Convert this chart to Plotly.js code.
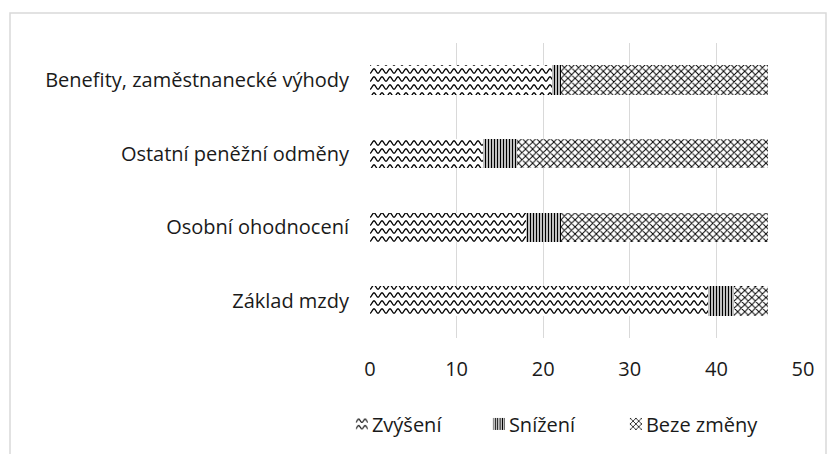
<!DOCTYPE html>
<html>
<head>
<meta charset="utf-8">
<script src="https://cdn.plot.ly/plotly-3.0.1.min.js"></script>
<style>
html,body{margin:0;padding:0;background:#fff;}
#chart{width:834px;height:454px;}
</style>
</head>
<body>
<div id="chart"></div>
<script>
// Data
var categories = ["Základ mzdy", "Osobní ohodnocení", "Ostatní peněžní odměny", "Benefity, zaměstnanecké výhody"];
var zvyseni   = [39, 18, 13, 21];
var snizeni   = [3, 4, 4, 1];
var bezeZmeny = [4, 24, 29, 24];
var seriesNames = ["Zvýšení", "Snížení", "Beze změny"];
var xTicks = [0, 10, 20, 30, 40, 50];

var FONT = "Open Sans, Liberation Sans, Arial, sans-serif";
var TXT = "#1a1a1a";
var WAVE_FG = "#010101";

function barTrace(name, values, pattern) {
  return {
    type: "bar",
    orientation: "h",
    name: name,
    y: categories,
    x: values,
    marker: {
      color: "#ffffff",
      line: {width: 0},
      pattern: pattern
    },
    hoverinfo: "x+name"
  };
}

var data = [
  barTrace(seriesNames[0], zvyseni, {shape: "-", fgcolor: WAVE_FG, bgcolor: "#ffffff", size: 8, solidity: 0.2}),
  barTrace(seriesNames[1], snizeni, {shape: "|", fgcolor: "#000000", bgcolor: "#ffffff", size: 3, solidity: 0.5}),
  barTrace(seriesNames[2], bezeZmeny, {shape: "x", fgcolor: "#000000", bgcolor: "#ffffff", size: 5, solidity: 0.35})
];

var layout = {
  width: 834,
  height: 454,
  margin: {l: 370, r: 31, t: 43, b: 115},
  paper_bgcolor: "#ffffff",
  plot_bgcolor: "#ffffff",
  barmode: "stack",
  bargap: 0.6,
  showlegend: true,
  font: {family: FONT, size: 20, color: TXT},
  xaxis: {
    range: [0, 50],
    tickvals: xTicks,
    ticktext: xTicks.map(String),
    showgrid: true,
    gridcolor: "#d9d9d9",
    gridwidth: 1,
    zeroline: false,
    showline: false,
    ticks: "",
    ticklabelstandoff: 17,
    tickfont: {family: FONT, size: 20, color: TXT},
    fixedrange: true
  },
  yaxis: {
    type: "category",
    categoryorder: "array",
    categoryarray: categories,
    showgrid: false,
    zeroline: false,
    showline: false,
    ticks: "",
    ticklabelstandoff: 20,
    tickfont: {family: FONT, size: 20, color: TXT},
    fixedrange: true
  },
  legend: {
    orientation: "h",
    x: -0.088,
    xanchor: "left",
    y: -0.287,
    yanchor: "middle",
    font: {family: FONT, size: 20, color: TXT},
    traceorder: "normal",
    entrywidth: 92,
    entrywidthmode: "pixels",
    bgcolor: "rgba(0,0,0,0)"
  },
  shapes: [{
    type: "rect",
    xref: "paper", yref: "paper",
    x0: -0.8314, x1: 1.0531,
    y0: -0.42, y1: 1.1014,
    line: {color: "#d9d9d9", width: 1.5},
    fillcolor: "rgba(0,0,0,0)",
    layer: "below"
  }]
};

var gd = document.getElementById("chart");
Plotly.newPlot(gd, data, layout, {displayModeBar: false, staticPlot: true}).then(function () {
  // turn the Zvýšení line pattern into the wavy pattern of the reference
  var pats = gd.querySelectorAll("pattern");
  pats.forEach(function (p) {
    var path = p.querySelector("path");
    if (!path) return;
    var st = (path.getAttribute("style") || "") + " " + (path.getAttribute("stroke") || "");
    if (st.indexOf("rgb(1, 1, 1)") >= 0 || st.indexOf("#010101") >= 0) {
      p.setAttribute("width", 8);
      p.setAttribute("height", 8);
      var rect = p.querySelector("rect");
      if (rect) { rect.setAttribute("width", 8); rect.setAttribute("height", 8); }
      path.setAttribute("d", "M0,6.2 C1.6,6.2 2.4,1.8 4,1.8 C5.6,1.8 6.4,6.2 8,6.2");
      path.setAttribute("style", "stroke:#000000;stroke-width:1.4px;fill:none;");
    }
  });
  // keep legend swatches next to their labels, as in the reference
  gd.querySelectorAll(".legend .legendsymbols").forEach(function (g) {
    g.setAttribute("transform", "translate(10,0)");
  });
  // let the last legend label show in full
  gd.querySelectorAll(".legend .scrollbox, .legend").forEach(function (g) {
    g.removeAttribute("clip-path");
  });
});
</script>
</body>
</html>
